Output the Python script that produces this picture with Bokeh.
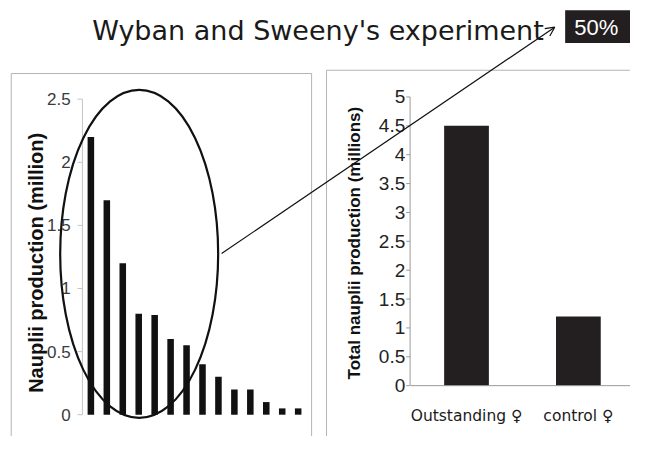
import math
from bokeh.plotting import figure
from bokeh.models import Range1d, Arrow, OpenHead
from bokeh.core.properties import value
from bokeh.embed import file_html
from bokeh.resources import INLINE

# ---------------- data ----------------
title_text = "Wyban and Sweeny's experiment"
badge_text = "50%"

females = list(range(1, 15))
female_nauplii = [2.2, 1.7, 1.2, 0.8, 0.79, 0.6, 0.55, 0.4, 0.3, 0.2, 0.2, 0.1, 0.05, 0.05]
left_ticks = [0, 0.5, 1, 1.5, 2, 2.5]
left_tick_labels = ["0", "0.5", "1", "1.5", "2", "2.5"]
left_ylabel = "Nauplii production (million)"

groups = ["Outstanding \u2640", "control \u2640"]
group_totals = [4.5, 1.2]
right_ticks = [0, 0.5, 1, 1.5, 2, 2.5, 3, 3.5, 4, 4.5, 5]
right_tick_labels = ["0", "0.5", "1", "1.5", "2", "2.5", "3", "3.5", "4", "4.5", "5"]
right_ylabel = "Total nauplii production (millions)"

# ---------------- layout helpers ----------------
W, H = 630, 436
X0, X1 = 0, 646            # reference pixel extent mapped onto the frame
Y0, Y1 = 0, 452


def span(v0, p0, v1, p1, lo, hi):
    """Range whose value v0 sits at reference pixel p0 and v1 at p1."""
    k = (v1 - v0) / (p1 - p0)
    return Range1d(start=v0 + (lo - p0) * k, end=v0 + (hi - p0) * k)


p = figure(width=W, height=H, x_range=Range1d(X0, X1), y_range=Range1d(Y1, Y0),
           output_backend="svg", toolbar_location=None,
           x_axis_location=None, y_axis_location=None,
           min_border=0, outline_line_color=None, background_fill_color="white")
p.grid.visible = False

p.extra_x_ranges = {
    "lx": span(0, 84.5, len(females), 313.4, X0, X1),
    "rx": span(0, 420.5, len(groups), 649.9, X0, X1),
}
p.extra_y_ranges = {
    "ly": span(0, 429.4, 2.5, 102.3, Y1, Y0),
    "ry": span(0, 399.3, 5, 100.0, Y1, Y0),
}

SANS = value("Liberation Sans")
COMIC = value("DejaVu Sans")

# ---------------- panel frames ----------------
p.quad(left=[11], right=[319], top=[75.7], bottom=[490], fill_color=None,
       line_color="#b4b4b4", line_width=1)
p.quad(left=[334.3], right=[700], top=[72.3], bottom=[490], fill_color=None,
       line_color="#b4b4b4", line_width=1)

# ---------------- left chart ----------------
p.vbar(x=[i - 0.5 for i in females], top=female_nauplii, bottom=0, width=0.41,
       fill_color="#111111", line_color=None, x_range_name="lx", y_range_name="ly")
p.segment(x0=[84], x1=[84], y0=[0], y1=[left_ticks[-1]], line_color="#c4c4c4",
          line_width=1, y_range_name="ly")
p.segment(x0=[79] * len(left_ticks), x1=[84] * len(left_ticks), y0=left_ticks,
          y1=left_ticks, line_color="#c4c4c4", line_width=1, y_range_name="ly")
p.text(x=[72] * len(left_ticks), y=left_ticks, text=left_tick_labels,
       text_align="right", text_baseline="middle", text_font=SANS,
       text_font_size="17px", text_color="#3a3a3a", y_range_name="ly")
p.text(x=[36.5], y=[272], text=[left_ylabel], angle=math.pi / 2,
       text_align="center", text_baseline="middle", text_font=SANS,
       text_font_style="bold", text_font_size="20px", text_color="#111111")

# highlight ellipse
p.ellipse(x=[142.2], y=[262.7], width=[162], height=[340], fill_color=None,
          line_color="#111111", line_width=2.2)

# ---------------- right chart ----------------
p.vbar(x=[i + 0.5 for i in range(len(groups))], top=group_totals, bottom=0,
       width=0.4, fill_color="#231f20", line_color=None,
       x_range_name="rx", y_range_name="ry")
p.segment(x0=[420], x1=[420], y0=[0], y1=[right_ticks[-1]], line_color="#9a9a9a",
          line_width=1, y_range_name="ry")
p.segment(x0=[416] * len(right_ticks), x1=[420] * len(right_ticks), y0=right_ticks,
          y1=right_ticks, line_color="#9a9a9a", line_width=1, y_range_name="ry")
p.segment(x0=[0], x1=[len(groups) + 0.5], y0=[0], y1=[0], line_color="#9a9a9a",
          line_width=1, x_range_name="rx", y_range_name="ry")
p.text(x=[415] * len(right_ticks), y=right_ticks, text=right_tick_labels,
       text_align="right", text_baseline="middle", text_font=SANS,
       text_font_size="19px", text_color="#222222", y_range_name="ry")
p.text(x=[i + 0.5 for i in range(len(groups))], y=[431] * len(groups), text=groups,
       text_align="center", text_baseline="middle", text_font=COMIC,
       text_font_size="15.5px", text_color="#1a1a1a", x_range_name="rx")
p.text(x=[363], y=[251.5], text=[right_ylabel], angle=math.pi / 2,
       text_align="center", text_baseline="middle", text_font=SANS,
       text_font_style="bold", text_font_size="17px", text_color="#111111")

# ---------------- title, arrow, badge ----------------
p.text(x=[94], y=[31.5], text=[title_text], text_align="left",
       text_baseline="middle", text_font=COMIC, text_font_size="27px",
       text_color="#1a1a1a")
p.add_layout(Arrow(end=OpenHead(size=9, line_width=1.2, line_color="#111111"),
                   x_start=226.7, y_start=262.3, x_end=568.3, y_end=27.7,
                   line_width=1.2, line_color="#111111"))
p.quad(left=[579], right=[660], top=[10], bottom=[44], fill_color="#231f20",
       line_color=None)
p.text(x=[611], y=[27.5], text=[badge_text], text_align="center",
       text_baseline="middle", text_font=SANS, text_font_size="22px",
       text_color="white")

open("out.html", "w").write(file_html(p, INLINE))
